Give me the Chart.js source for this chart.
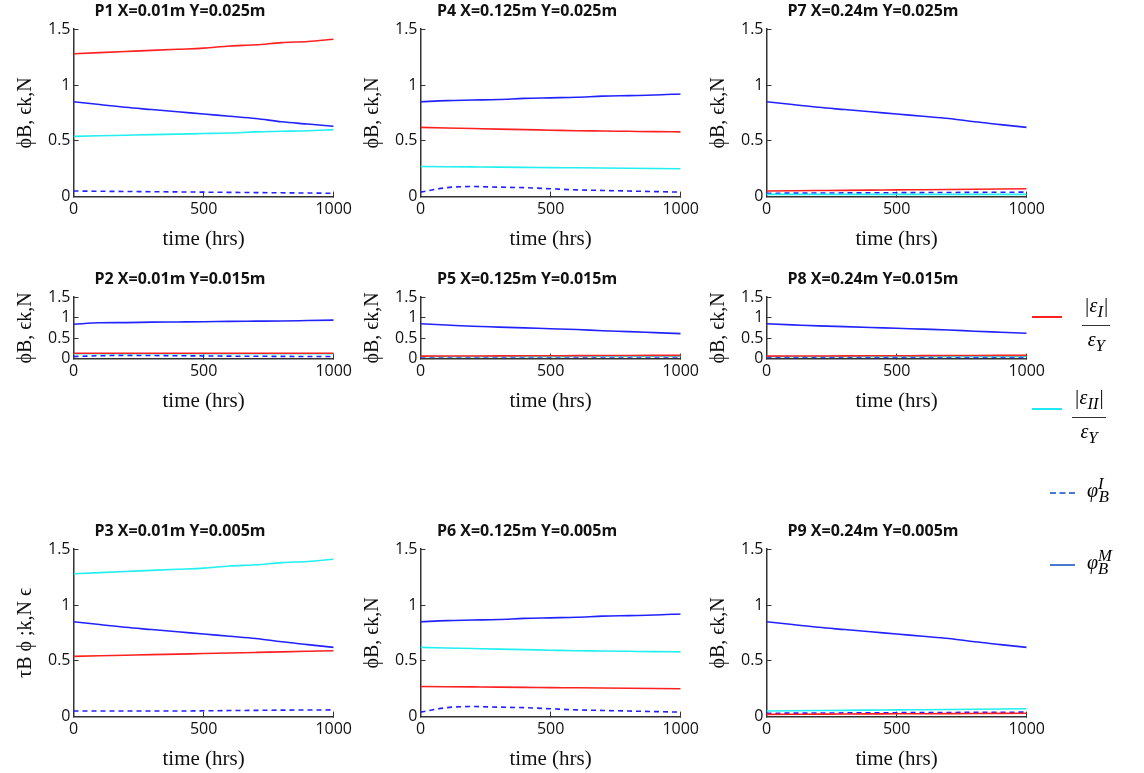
<!DOCTYPE html>
<html><head><meta charset="utf-8">
<script src="https://cdn.jsdelivr.net/npm/chart.js@4.4.0/dist/chart.umd.min.js"></script>
<style>
body{margin:0;background:#fff;width:1144px;height:773px;position:relative;overflow:hidden;font-family:"Liberation Serif",serif}
.c{position:absolute}
.leg{position:absolute;left:1032px;font-style:italic;font-size:20px;white-space:nowrap}
.leg .ln{position:absolute;width:30px;top:0}
.frac{position:absolute;left:45px;text-align:center;line-height:26px}
.frac .n{border-bottom:1.5px solid #333;padding:0 2px}
</style></head><body>
<div id="wrap"></div>
<div class="leg" style="top:306px"><div class="ln" style="top:10px;border-top:2px solid #ff2020"></div><div class="frac" style="top:-14px;left:50px"><div class="n">|ε<sub>I</sub>|</div><div>ε<sub>Y</sub></div></div></div>
<div class="leg" style="top:398px"><div class="ln" style="top:10px;border-top:2px solid #20e8f5"></div><div class="frac" style="top:-14px;left:40px"><div class="n">|ε<sub>II</sub>|</div><div>ε<sub>Y</sub></div></div></div>
<div class="leg" style="top:482px"><div class="ln" style="left:18px;width:25px;top:10px;border-top:2px dashed #4a7ad0"></div><div style="position:absolute;left:55px;top:-8px">φ<sup>I</sup><sub style="margin-left:-5px">B</sub></div></div>
<div class="leg" style="top:554px"><div class="ln" style="left:18px;width:25px;top:10px;border-top:2px solid #4a7ad0"></div><div style="position:absolute;left:55px;top:-8px">φ<sup>M</sup><sub style="margin-left:-14px">B</sub></div></div>
<script>
const timeHrs = [0, 100, 200, 300, 400, 500, 600, 700, 800, 900, 1000];
const titles = ["P1 X=0.01m Y=0.025m","P4 X=0.125m Y=0.025m","P7 X=0.24m Y=0.025m",
  "P2 X=0.01m Y=0.015m","P5 X=0.125m Y=0.015m","P8 X=0.24m Y=0.015m",
  "P3 X=0.01m Y=0.005m","P6 X=0.125m Y=0.005m","P9 X=0.24m Y=0.005m"];
const yLabels = ["ϕB, ϵk,N","ϕB, ϵk,N","ϕB, ϵk,N","ϕB, ϵk,N","ϕB, ϵk,N","ϕB, ϵk,N","τB ϕ ;k,N ϵ","ϕB, ϵk,N","ϕB, ϵk,N"];
// |eps_I|/eps_Y
const epsI = [
  [1.28,1.29,1.30,1.31,1.32,1.33,1.35,1.36,1.38,1.39,1.41],
  [0.62,0.615,0.61,0.605,0.60,0.595,0.59,0.588,0.585,0.582,0.58],
  [0.05,0.052,0.054,0.056,0.058,0.06,0.062,0.064,0.066,0.068,0.07],
  [0.13,0.13,0.13,0.13,0.13,0.13,0.13,0.13,0.13,0.13,0.13],
  [0.06,0.062,0.064,0.066,0.068,0.07,0.072,0.074,0.076,0.078,0.08],
  [0.06,0.062,0.064,0.066,0.068,0.07,0.072,0.074,0.076,0.078,0.08],
  [0.54,0.545,0.55,0.555,0.56,0.565,0.57,0.575,0.58,0.585,0.59],
  [0.27,0.268,0.266,0.264,0.262,0.26,0.258,0.256,0.254,0.252,0.25],
  [0.02,0.021,0.022,0.023,0.024,0.025,0.026,0.027,0.028,0.029,0.03]];
// |eps_II|/eps_Y
const epsII = [
  [0.54,0.545,0.55,0.555,0.56,0.565,0.57,0.58,0.585,0.59,0.60],
  [0.27,0.268,0.266,0.264,0.262,0.26,0.258,0.256,0.254,0.252,0.25],
  [0.02,0.02,0.02,0.02,0.02,0.02,0.02,0.02,0.02,0.02,0.02],
  [0.12,0.12,0.12,0.12,0.12,0.12,0.12,0.12,0.12,0.12,0.12],
  [0.05,0.051,0.052,0.053,0.054,0.055,0.056,0.057,0.058,0.059,0.06],
  [0.05,0.05,0.05,0.05,0.05,0.05,0.05,0.05,0.05,0.05,0.05],
  [1.28,1.29,1.30,1.31,1.32,1.33,1.35,1.36,1.38,1.39,1.41],
  [0.62,0.615,0.61,0.605,0.60,0.595,0.59,0.588,0.585,0.582,0.58],
  [0.05,0.052,0.054,0.056,0.058,0.06,0.062,0.064,0.066,0.068,0.07]];
// phi_B^I (dashed)
const phiI = [
  [0.05,0.048,0.046,0.044,0.042,0.04,0.038,0.036,0.034,0.032,0.03],
  [0.04,0.08,0.09,0.085,0.08,0.07,0.06,0.055,0.05,0.045,0.04],
  [0.03,0.031,0.032,0.033,0.034,0.035,0.036,0.037,0.038,0.039,0.04],
  [0.05,0.07,0.08,0.075,0.07,0.065,0.06,0.057,0.054,0.052,0.05],
  [0.04,0.04,0.04,0.04,0.04,0.04,0.04,0.04,0.04,0.04,0.04],
  [0.03,0.03,0.03,0.03,0.03,0.03,0.03,0.03,0.03,0.03,0.03],
  [0.05,0.05,0.05,0.05,0.05,0.052,0.054,0.056,0.058,0.059,0.06],
  [0.04,0.08,0.09,0.085,0.08,0.07,0.06,0.055,0.05,0.045,0.04],
  [0.03,0.031,0.032,0.033,0.034,0.035,0.036,0.037,0.038,0.039,0.04]];
// phi_B^M (solid)
const phiM = [
  [0.85,0.825,0.80,0.78,0.76,0.74,0.72,0.70,0.67,0.65,0.63],
  [0.85,0.86,0.865,0.87,0.88,0.885,0.89,0.90,0.905,0.91,0.92],
  [0.85,0.825,0.80,0.78,0.76,0.74,0.72,0.70,0.67,0.645,0.62],
  [0.84,0.875,0.88,0.89,0.895,0.90,0.91,0.915,0.92,0.93,0.94],
  [0.85,0.82,0.79,0.77,0.75,0.73,0.71,0.68,0.66,0.635,0.61],
  [0.85,0.825,0.80,0.78,0.76,0.74,0.72,0.70,0.67,0.645,0.62],
  [0.85,0.825,0.80,0.78,0.76,0.74,0.72,0.70,0.67,0.645,0.62],
  [0.85,0.86,0.865,0.87,0.88,0.885,0.89,0.90,0.905,0.91,0.92],
  [0.85,0.825,0.80,0.78,0.76,0.74,0.72,0.70,0.67,0.645,0.62]];
const xTicks = [0, 500, 1000];
const yTicks = [0, 0.5, 1, 1.5];

const colLeft = [12, 359, 705];
const rowTop = [0, 268, 520], rowH = [252, 146, 252];
const wrap = document.getElementById('wrap');
const pts = a => a.map((v, i) => ({ x: timeHrs[i], y: v }));

for (let k = 0; k < 9; k++) {
  const r = Math.floor(k / 3), c = k % 3;
  const cv = document.createElement('canvas');
  cv.className = 'c';
  cv.style.left = colLeft[c] + 'px'; cv.style.top = rowTop[r] + 'px';
  cv.style.width = '348px'; cv.style.height = rowH[r] + 'px';
  wrap.appendChild(cv);
  const ds = (d, col, dash) => ({ data: pts(d), borderColor: col, borderWidth: 1.6, pointRadius: 0, borderDash: dash || [], cubicInterpolationMode: 'monotone' });
  new Chart(cv, {
    type: 'line',
    data: { datasets: [ds(epsI[k], '#ff2020'), ds(epsII[k], '#20f0f0'), ds(phiI[k], '#2222ff', [5, 4]), ds(phiM[k], '#2222ff')] },
    options: {
      responsive: false, animation: false,
      layout: { padding: { right: 12, top: 0 } },
      plugins: { legend: { display: false }, tooltip: { enabled: false },
        title: { display: true, text: titles[k], color: '#111', font: { family: 'Open Sans', size: 16, weight: 'bold' }, padding: { top: 2, bottom: 8 } } },
      scales: {
        x: { type: 'linear', min: 0, max: 1000, afterBuildTicks: s => { s.ticks = xTicks.map(v => ({ value: v })); },
          grid: { display: true, drawOnChartArea: false, tickLength: -5, color: '#333' }, border: { color: '#333', width: 1.5 },
          ticks: { color: '#111', font: { family: 'Open Sans', size: 16 }, padding: 8, maxRotation: 0, autoSkip: false, callback: v => String(v) },
          title: { display: true, text: 'time (hrs)', color: '#111', font: { family: 'Liberation Serif', size: 21 }, padding: 0 } },
        y: { min: 0, max: 1.5, afterBuildTicks: s => { s.ticks = yTicks.map(v => ({ value: v })); },
          grid: { display: true, drawOnChartArea: false, tickLength: -5, color: '#333' }, border: { color: '#333', width: 1.5 },
          ticks: { color: '#111', font: { family: 'Open Sans', size: 16 }, padding: 8, autoSkip: false, callback: v => String(v) },
          title: { display: true, text: yLabels[k], color: '#111', font: { family: 'Liberation Serif', size: 20 }, padding: 2 } }
      }
    }
  });
}
</script></body></html>
